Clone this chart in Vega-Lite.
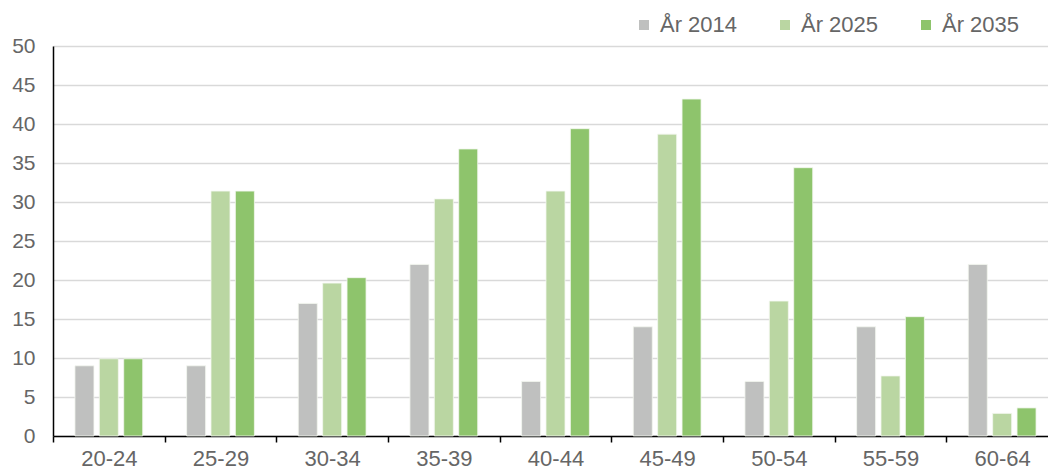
{
  "$schema": "https://vega.github.io/schema/vega-lite/v6.json",
  "width": 995,
  "height": 390,
  "autosize": {"type": "none"},
  "padding": {"left": 53, "top": 46, "right": 0, "bottom": 34},
  "background": "white",
  "data": {
    "values": [
      {"age": "20-24", "year": "År 2014", "value": 9},
      {"age": "20-24", "year": "År 2025", "value": 9.9},
      {"age": "20-24", "year": "År 2035", "value": 9.9},
      {"age": "25-29", "year": "År 2014", "value": 9},
      {"age": "25-29", "year": "År 2025", "value": 31.4},
      {"age": "25-29", "year": "År 2035", "value": 31.4},
      {"age": "30-34", "year": "År 2014", "value": 17},
      {"age": "30-34", "year": "År 2025", "value": 19.6},
      {"age": "30-34", "year": "År 2035", "value": 20.3},
      {"age": "35-39", "year": "År 2014", "value": 22},
      {"age": "35-39", "year": "År 2025", "value": 30.4},
      {"age": "35-39", "year": "År 2035", "value": 36.8},
      {"age": "40-44", "year": "År 2014", "value": 7},
      {"age": "40-44", "year": "År 2025", "value": 31.4},
      {"age": "40-44", "year": "År 2035", "value": 39.4},
      {"age": "45-49", "year": "År 2014", "value": 14},
      {"age": "45-49", "year": "År 2025", "value": 38.7},
      {"age": "45-49", "year": "År 2035", "value": 43.2},
      {"age": "50-54", "year": "År 2014", "value": 7},
      {"age": "50-54", "year": "År 2025", "value": 17.3},
      {"age": "50-54", "year": "År 2035", "value": 34.4},
      {"age": "55-59", "year": "År 2014", "value": 14},
      {"age": "55-59", "year": "År 2025", "value": 7.7},
      {"age": "55-59", "year": "År 2035", "value": 15.3},
      {"age": "60-64", "year": "År 2014", "value": 22},
      {"age": "60-64", "year": "År 2025", "value": 2.9},
      {"age": "60-64", "year": "År 2035", "value": 3.6}
    ]
  },
  "mark": {"type": "bar", "stroke": "#f4f8f0", "strokeWidth": 0.8},
  "encoding": {
    "x": {
      "field": "age",
      "type": "nominal",
      "sort": null,
      "scale": {"range": [0, 1005], "paddingInner": 0, "paddingOuter": 0},
      "axis": {
        "title": null,
        "labelAngle": 0,
        "domainColor": "#000000",
        "domainWidth": 1.5,
        "tickColor": "#000000",
        "tickWidth": 1.5,
        "tickSize": 6,
        "tickBand": "extent",
        "labelFont": "Liberation Sans",
        "labelFontSize": 22,
        "labelColor": "#666666",
        "labelPadding": 6,
        "grid": false
      }
    },
    "xOffset": {
      "field": "year",
      "type": "nominal",
      "sort": ["År 2014", "År 2025", "År 2035"],
      "scale": {"paddingInner": 0.22, "paddingOuter": 0.9}
    },
    "y": {
      "field": "value",
      "type": "quantitative",
      "scale": {"domain": [0, 50], "nice": false},
      "axis": {
        "title": null,
        "values": [0, 5, 10, 15, 20, 25, 30, 35, 40, 45, 50],
        "domainColor": "#000000",
        "domainWidth": 1.5,
        "ticks": false,
        "grid": true,
        "gridColor": "#d9d9d9",
        "gridWidth": 1.5,
        "labelFont": "Liberation Sans",
        "labelFontSize": 21,
        "labelColor": "#666666",
        "labelPadding": 18
      }
    },
    "color": {
      "field": "year",
      "type": "nominal",
      "sort": ["År 2014", "År 2025", "År 2035"],
      "scale": {
        "domain": ["År 2014", "År 2025", "År 2035"],
        "range": ["#bfc0bf", "#bad6a2", "#8ec46c"]
      },
      "legend": {
        "title": null,
        "orient": "none",
        "direction": "horizontal",
        "legendX": 580,
        "legendY": -32,
        "symbolType": "square",
        "symbolSize": 100,
        "symbolStrokeWidth": 0,
        "labelFont": "Liberation Sans",
        "labelFontSize": 22,
        "labelColor": "#666666",
        "labelOffset": 5,
        "columnPadding": 36
      }
    }
  },
  "config": {"view": {"stroke": null}}
}
